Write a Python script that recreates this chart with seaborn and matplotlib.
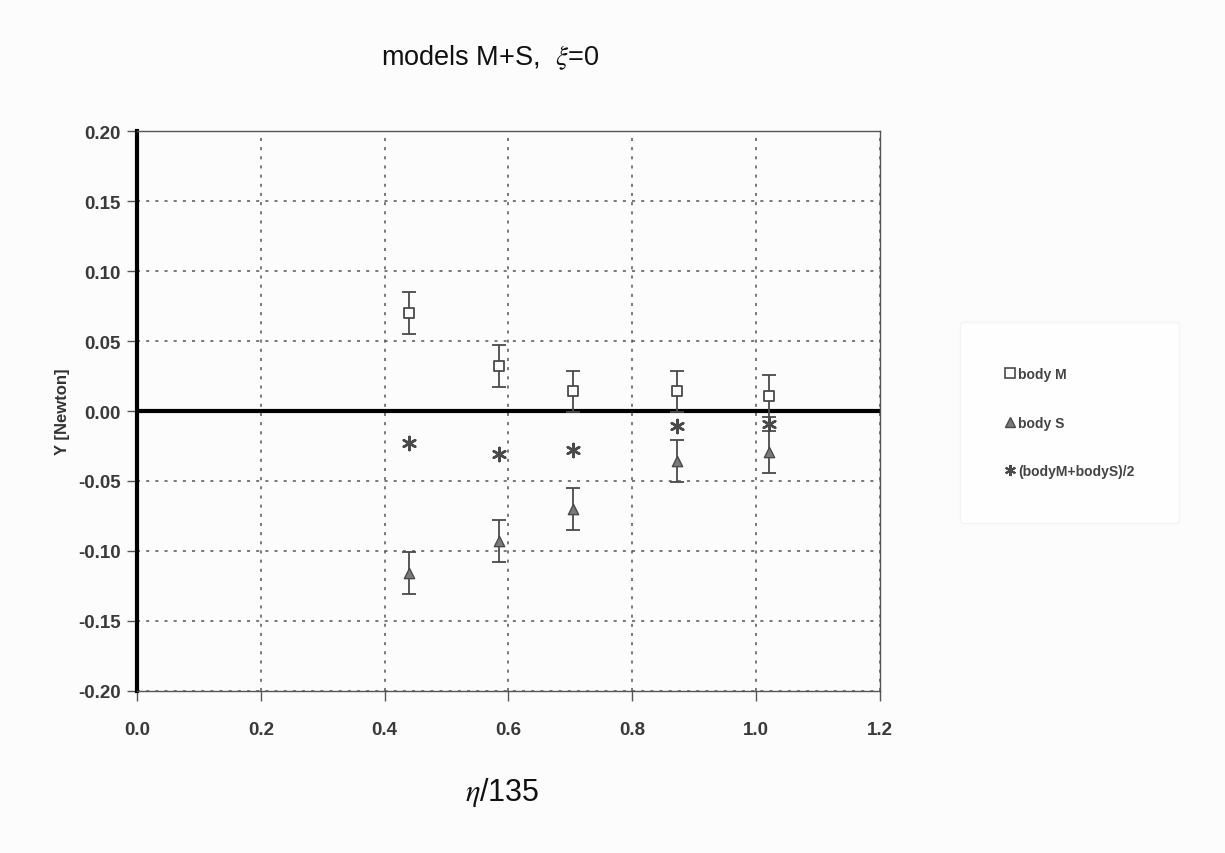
import matplotlib
matplotlib.use("Agg")
import matplotlib.pyplot as plt
import seaborn as sns
import pandas as pd
from matplotlib.lines import Line2D

# data
eta = [0.44, 0.585, 0.705, 0.873, 1.021]
body_m = [0.070, 0.032, 0.014, 0.014, 0.011]
body_s = [-0.116, -0.093, -0.070, -0.036, -0.029]
avg_ms = [-0.023, -0.031, -0.028, -0.011, -0.009]
err_m = [0.015, 0.015, 0.015, 0.015, 0.015]
err_s = [0.015, 0.015, 0.015, 0.015, 0.015]

labels = ["body M", "body S", "(bodyM+bodyS)/2"]

df = pd.DataFrame({
    "x": eta * 3,
    "y": body_m + body_s + avg_ms,
    "series": [labels[0]] * 5 + [labels[1]] * 5 + [labels[2]] * 5,
})

sns.set_style("white")
plt.rcParams["font.family"] = ["Liberation Sans", "DejaVu Sans"]
plt.rcParams["mathtext.fontset"] = "stix"

fig = plt.figure(figsize=(12.25, 8.54), dpi=100, facecolor="#fcfcfc")
ax = fig.add_axes([0.112, 0.190, 0.606, 0.655])
ax.set_facecolor("#fcfcfc")

gray = "#4a4a4a"
# error bars first so markers sit on top
ax.errorbar(eta, body_m, yerr=err_m, fmt="none", ecolor=gray, elinewidth=1.3,
            capsize=5, capthick=1.3, zorder=3)
ax.errorbar(eta, body_s, yerr=err_s, fmt="none", ecolor=gray, elinewidth=1.3,
            capsize=5, capthick=1.3, zorder=3)

sub = df[df.series == labels[0]]
sns.scatterplot(data=sub, x="x", y="y", marker="s", s=55, facecolor="white",
                edgecolor=gray, linewidth=1.3, ax=ax, zorder=4, legend=False)
sub = df[df.series == labels[1]]
sns.scatterplot(data=sub, x="x", y="y", marker="^", s=55, color="#7a7a7a",
                edgecolor=gray, linewidth=1.0, ax=ax, zorder=4, legend=False)
sub = df[df.series == labels[2]]
sns.scatterplot(data=sub, x="x", y="y", marker=(6, 2, 0), s=90, color=gray,
                edgecolor=gray, linewidth=1.8, ax=ax, zorder=4, legend=False)

ax.set_xlim(0, 1.2)
ax.set_ylim(-0.2, 0.2)
ax.set_xticks([0.0, 0.2, 0.4, 0.6, 0.8, 1.0, 1.2])
ax.set_yticks([-0.20, -0.15, -0.10, -0.05, 0.0, 0.05, 0.10, 0.15, 0.20])
ax.set_xticklabels([f"{v:.1f}" for v in ax.get_xticks()], fontweight="bold",
                   fontsize=13.5, color="#3a3a3a")
ax.set_yticklabels([f"{v:.2f}" for v in ax.get_yticks()], fontweight="bold",
                   fontsize=13.5, color="#3a3a3a")
ax.tick_params(axis="y", direction="out", length=7, width=1, color="#555555",
               left=True, pad=5)
ax.tick_params(axis="x", direction="out", length=7, width=1, color="#555555",
               bottom=True, pad=15)

ax.grid(True, linestyle=(0, (2, 4)), color="#555555", linewidth=1.1)
ax.axhline(0, color="black", linewidth=3, zorder=2)

for side in ["top", "right", "bottom"]:
    ax.spines[side].set_color("#555555")
    ax.spines[side].set_linewidth(1.0)
ax.spines["left"].set_color("black")
ax.spines["left"].set_linewidth(3)

ax.set_xlabel("")
ax.set_ylabel("Y [Newton]", fontweight="bold", fontsize=12, color="#333333",
              labelpad=6)

fig.text(0.40, 0.932, r"models M+S,  $\xi$=0", fontsize=19.5, ha="center",
         va="center", color="#111111")
fig.text(0.41, 0.072, r"$\eta$/135", fontsize=22, ha="center", va="center",
         color="#111111")

handles = [
    Line2D([], [], marker="s", linestyle="none", markersize=7,
           markerfacecolor="white", markeredgecolor=gray, markeredgewidth=1.2),
    Line2D([], [], marker="^", linestyle="none", markersize=7,
           markerfacecolor="#7a7a7a", markeredgecolor=gray),
    Line2D([], [], marker=(6, 2, 0), linestyle="none", markersize=8,
           color=gray, markeredgewidth=1.5),
]
leg = fig.legend(handles, labels, loc="center", bbox_to_anchor=(0.873, 0.504),
                 frameon=True, labelspacing=2.5, handletextpad=0.2,
                 borderpad=3.2, handlelength=0.8, prop={"weight": "bold", "size": 10})
leg.get_frame().set_edgecolor("#f2f2f2")
leg.get_frame().set_facecolor("white")
for t in leg.get_texts():
    t.set_color("#444444")

fig.savefig("out.png", dpi=100, facecolor=fig.get_facecolor())
